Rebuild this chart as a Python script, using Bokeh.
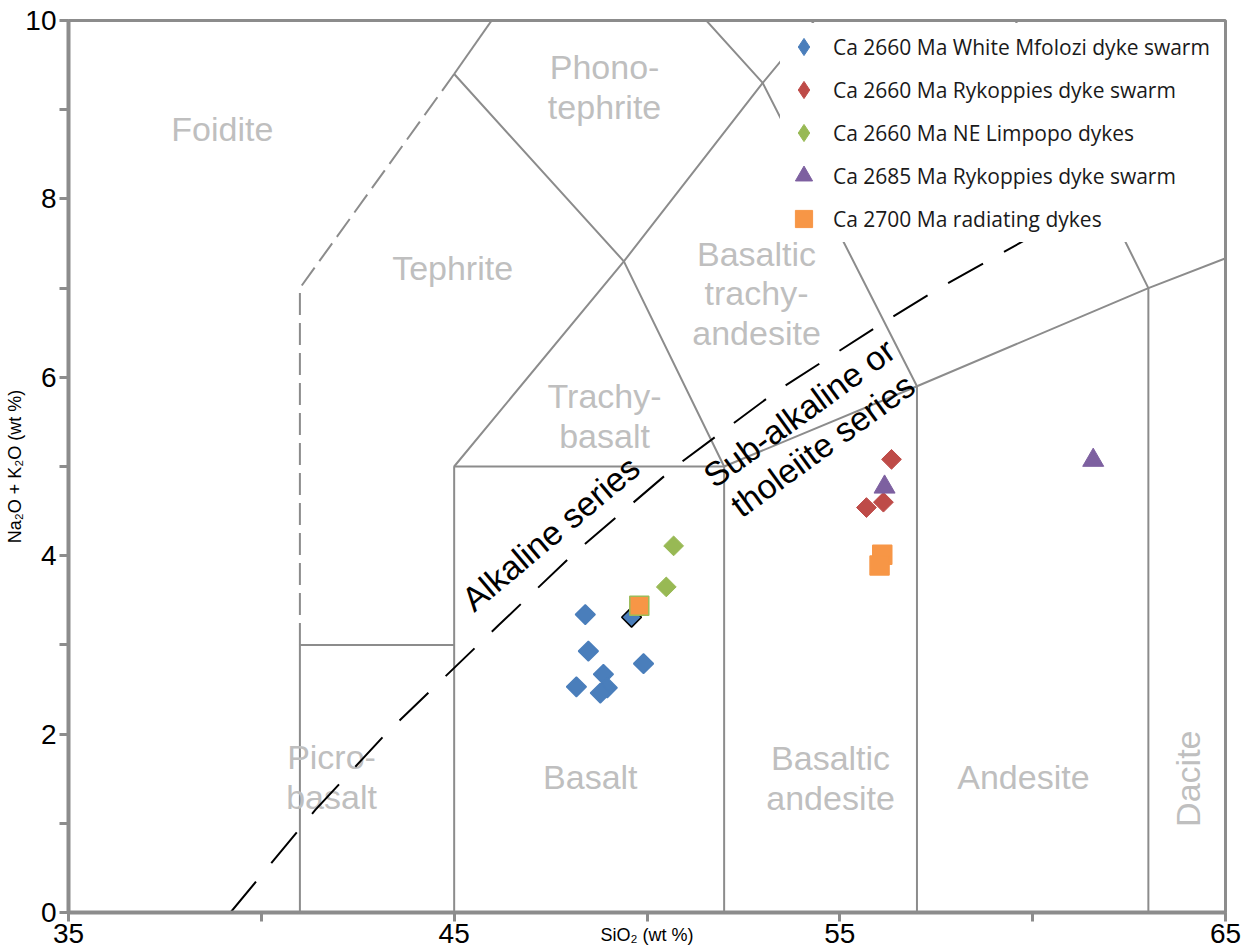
import numpy as np
from bokeh.plotting import figure
from bokeh.models import Range1d, FixedTicker, Legend, LegendItem
from bokeh.core.properties import value
from bokeh.embed import file_html
from bokeh.resources import INLINE

# ---------------- data ----------------
blue_x = [48.40, 48.48, 49.91, 48.87, 48.17, 48.97, 48.79, 49.60]
blue_y = [3.34, 2.93, 2.79, 2.67, 2.53, 2.52, 2.46, 3.31]
blue_edge = ["#4A7EBB"] * 7 + ["black"]

red_x = [56.34, 55.69, 56.13]
red_y = [5.08, 4.54, 4.60]

green_x = [50.69, 50.50]
green_y = [4.11, 3.65]

purple_x = [56.16, 61.57]
purple_y = [4.77, 5.07]

orange_x = [56.10, 56.03, 49.80]
orange_y = [4.01, 3.89, 3.44]
orange_edge = ["#F79646", "#F79646", "#9BBB59"]

series_labels = ["Ca 2660 Ma White Mfolozi dyke swarm",
                 "Ca 2660 Ma Rykoppies dyke swarm",
                 "Ca 2660 Ma NE Limpopo dykes",
                 "Ca 2685 Ma Rykoppies dyke swarm",
                 "Ca 2700 Ma radiating dykes"]
series_colors = ["#4A7EBB", "#BE4B48", "#98B954", "#7D60A0", "#F79646"]

# TAS field boundaries (SiO2, Na2O+K2O)
tas_solid_xs = [[41, 41, 45],
                [45, 45, 52, 52],
                [45, 49.4, 53, 57.6],
                [45, 49.4, 52],
                [45, 48.4],
                [48.4, 53, 57, 57],
                [52, 57, 63, 69],
                [63, 63, 57.6]]
tas_solid_ys = [[0, 3, 3],
                [0, 5, 5, 0],
                [5, 7.3, 9.3, 11.7],
                [9.4, 7.3, 5],
                [9.4, 11.5],
                [11.5, 9.3, 5.9, 0],
                [5, 5.9, 7, 8],
                [0, 7, 11.7]]
foid_x = [41, 41, 45]
foid_y = [3, 7, 9.4]

# alkaline / sub-alkaline divide
alk_x = [39.2, 41.4, 43.24, 46.15, 48.17, 50.74, 53.38, 56.26, 57.74, 62.09, 65.0]
alk_y = [0.0, 1.15, 2.01, 3.22, 4.05, 5.0, 5.85, 6.65, 7.04, 8.09, 8.76]

region_names = ["Foidite", "Phono-\ntephrite", "Tephrite", "Basaltic\ntrachy-\nandesite",
                "Trachy-\nbasalt", "Picro-\nbasalt", "Basalt", "Basaltic\nandesite", "Andesite"]
region_x = [38.99, 48.90, 44.96, 52.84, 48.90, 41.82, 48.53, 54.76, 59.76]
region_y = [8.78, 9.25, 7.22, 6.94, 5.57, 1.52, 1.52, 1.51, 1.52]

x_ticks = [35, 40, 45, 50, 55, 60, 65]
x_tick_labels = ["35", "", "45", "", "55", "", "65"]
y_ticks = [0, 1, 2, 3, 4, 5, 6, 7, 8, 9, 10]
y_tick_labels = ["0", "", "2", "", "4", "", "6", "", "8", "", "10"]

# ---------------- figure ----------------
GRAY = "#8C8C8C"
FONT = "Liberation Sans"
p = figure(width=1245, height=947, x_range=Range1d(35, 65), y_range=Range1d(0, 10),
           output_backend="svg", toolbar_location=None,
           min_border_left=68, min_border_right=20, min_border_top=20, min_border_bottom=35)
p.grid.visible = False
p.outline_line_color = GRAY
p.outline_line_width = 3
p.background_fill_color = "white"
p.border_fill_color = "white"

for ax, ticks, labs in ((p.xaxis[0], x_ticks, x_tick_labels), (p.yaxis[0], y_ticks, y_tick_labels)):
    ax.ticker = FixedTicker(ticks=ticks)
    ax.major_label_overrides = {t: l for t, l in zip(ticks, labs)}
    ax.axis_line_color = GRAY
    ax.axis_line_width = 4
    ax.major_tick_line_color = GRAY
    ax.major_tick_line_width = 3
    ax.major_tick_out = 9
    ax.major_tick_in = 0
    ax.minor_tick_line_color = None
    ax.major_label_text_font = FONT
    ax.major_label_text_font_size = "28px"
    ax.major_label_text_color = "black"
    ax.axis_label_text_font = FONT
    ax.axis_label_text_font_size = "18px"
    ax.axis_label_text_font_style = "normal"
    ax.axis_label_text_color = "black"
p.xaxis.major_label_standoff = 2
p.yaxis.major_label_standoff = 3
p.xaxis.axis_label = "SiO₂ (wt %)"
p.xaxis.axis_label_standoff = -21
p.xaxis.axis_label_text_line_height = 0.5
p.yaxis.axis_label = "Na₂O + K₂O (wt %)"
p.yaxis.axis_label_standoff = -3

# TAS lines (lowest level so that the legend box covers them)
p.multi_line(tas_solid_xs, tas_solid_ys, line_color=GRAY, line_width=2, level="image")
p.line(foid_x, foid_y, line_color=GRAY, line_width=2, line_dash="22 8", level="image")

# legend swatches (legend does not rotate markers, so diamonds use the diamond marker);
# tiny, hidden below the real markers
legend_markers = ["diamond", "diamond", "diamond", "triangle", "square"]
first_pts = [(blue_x[0], blue_y[0]), (red_x[0], red_y[0]), (green_x[0], green_y[0]),
             (purple_x[0], purple_y[0]), (orange_x[0], orange_y[0])]
swatches = [p.scatter([px], [py], marker=m, size=1, fill_color=c, line_color=c, level="image")
            for (px, py), m, c in zip(first_pts, legend_markers, series_colors)]

# region names
p.text(region_x, region_y, text=region_names, text_font=value(FONT),
       text_font_size=value("34px"), text_color="#BFBFBF", text_align="center",
       text_baseline="middle", text_line_height=1.05)
p.text([64.04], [1.5], text=["Dacite"], angle=np.pi / 2, text_font=value(FONT),
       text_font_size=value("34px"), text_color="#BFBFBF", text_align="center",
       text_baseline="middle")

# series labels along the divide
p.text([47.50], [4.25], text=["Alkaline series"], angle=np.deg2rad(40),
       text_font=value(FONT), text_font_size=value("34px"), text_color="black",
       text_align="center", text_baseline="middle")
p.text([54.25], [5.42], text=["Sub-alkaline or\ntholeiite series"], angle=np.deg2rad(36),
       text_font=value(FONT), text_font_size=value("34px"), text_color="black",
       text_align="center", text_baseline="middle", text_line_height=1.05)

# data
r_blue = p.scatter(blue_x, blue_y, marker="square", angle=np.pi / 4, size=14,
                   fill_color=series_colors[0], line_color=blue_edge, line_width=1.5)
r_red = p.scatter(red_x, red_y, marker="square", angle=np.pi / 4, size=14,
                  fill_color=series_colors[1], line_color=series_colors[1], line_width=1)
r_green = p.scatter(green_x, green_y, marker="square", angle=np.pi / 4, size=14,
                    fill_color=series_colors[2], line_color=series_colors[2], line_width=1)
r_purple = p.scatter(purple_x, purple_y, marker="triangle", size=21,
                     fill_color=series_colors[3], line_color=series_colors[3], line_width=1)
r_orange = p.scatter(orange_x, orange_y, marker="square", size=19,
                     fill_color=series_colors[4], line_color=orange_edge, line_width=1.5)

# dashed divide (glyph level, drawn above the legend box)
p.line(alk_x, alk_y, line_color="black", line_width=2, line_dash="40 24")

legend = Legend(items=[LegendItem(label=l, renderers=[r]) for l, r in zip(series_labels, swatches)],
                location="top_right", margin=3, padding=2, spacing=0,
                glyph_height=43, glyph_width=43, label_height=20, label_width=387,
                label_standoff=8,
                label_text_font="Open Sans", label_text_font_size="21px",
                label_text_color="#1A1A1A",
                background_fill_color="white", background_fill_alpha=1.0,
                border_line_alpha=0, level="underlay")
p.add_layout(legend)

open("out.html", "w").write(file_html(p, INLINE))
